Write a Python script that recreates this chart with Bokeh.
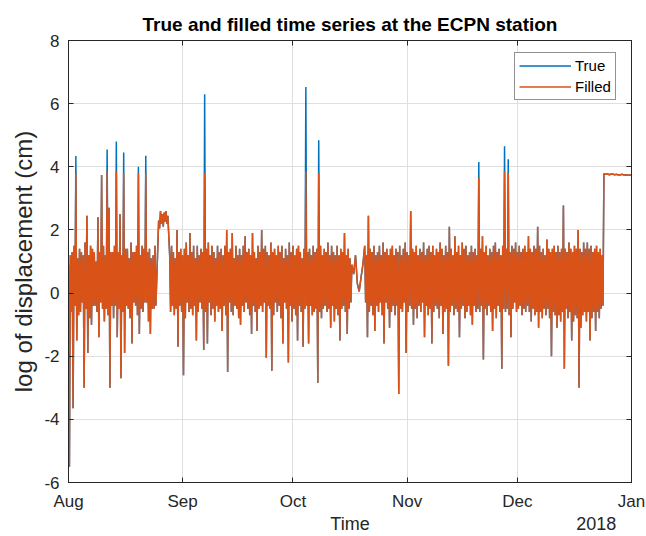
import numpy as np
from bokeh.plotting import figure
from bokeh.models import FixedTicker, LinearAxis, Range1d, Legend, LegendItem
from bokeh.embed import file_html
from bokeh.resources import INLINE

title_text = "True and filled time series at the ECPN station"
x_label = "Time"
y_label = "log of displacement (cm)"
year_label = "2018"

# x axis: days since 1 Aug 2017
month_ticks = [0, 31, 61, 92, 122, 153]
month_labels = ["Aug", "Sep", "Oct", "Nov", "Dec", "Jan"]
y_ticks = [-6, -4, -2, 0, 2, 4, 6, 8]
y_tick_labels = ["-6", "-4", "-2", "0", "2", "4", "6", "8"]
# where the axis title and the year sit under the axis (in days)
x_label_pos = 76.5
year_label_pos = 143.4

# --- filled series, segment by segment (6-hourly samples) ---
seg_a_start, seg_a_step = 0.0, 0.25
seg_a = [0.9, -5.5, 1.2, -0.6,   1.3, -3.65, 1.5, -0.4,   3.8, -1.5, 1.1, -0.7,
         1.4, -0.6, 1.3, -0.3,   1.2, -3.0, 1.6, -0.5,    2.45, -1.9, 1.2, -0.8,
         1.5, -1.0, 1.4, -0.4,   1.3, -0.4, 1.0, -0.6,    2.4, -1.4, 1.3, -0.3,
         3.74, -0.5, 1.5, -0.9,  1.2, -0.5, 3.87, -0.7,   2.7, -3.0, 1.3, -0.4,
         1.3, -0.8, 1.5, -0.4,   3.85, -1.4, 1.3, -0.5,   2.5, -2.7, 1.2, -0.6,
         3.8, -1.9, 1.4, -0.4,   1.4, -0.5, 1.1, -0.8,    1.6, -1.6, 1.3, -0.3,
         1.3, -0.4, 1.5, -0.7,   3.8, -1.3, 1.2, -0.5,    1.5, -0.6, 1.4, -0.3,
         3.8, -0.3, 1.3, -0.9,   1.4, -1.3, 1.1, -0.5,    1.2, -0.5, 1.5, -0.4]

seg_b_start, seg_b_step = 24.5, 0.25
seg_b = [2.3, 2.05, 2.6, 2.2, 2.5, 2.1, 2.55, 2.25, 2.6, 2.2, 2.45]

seg_c_start, seg_c_step = 27.5, 0.25
seg_c = [1.2, -0.6, 1.5, -0.4, 1.3, -0.7, 1.1, -0.5, 2.0, -1.7, 1.3, -0.4,
         1.4, -0.6, 1.2, -2.6, 1.4, -0.8, 1.6, -0.3, 1.2, -0.6, 1.9, -0.5,
         1.3, -0.7, 1.5, -0.4, 1.1, -1.5, 1.5, -0.6, 1.2, -0.3, 1.4, -0.5,
         1.3, -1.8, 3.8, -0.6, 1.4, -1.6, 1.6, -0.3, 1.2, -0.7, 1.5, -0.5,
         1.3, -0.9, 1.1, -0.4, 1.5, -0.6, 1.3, -0.5, 1.4, -1.2, 1.2, -0.4,
         1.5, -0.7, 2.0, -2.5, 1.3, -0.3, 1.4, -0.6, 1.9, -0.7, 1.1, -0.4,
         1.5, -0.5, 1.2, -0.8, 1.4, -1.0, 1.2, -0.4, 1.5, -0.6, 1.8, -0.3,
         1.3, -0.5, 1.4, -0.7, 1.2, -1.3, 1.9, -0.4, 1.3, -0.6, 1.1, -1.2,
         1.5, -0.5, 1.3, -0.4, 2.0, -0.6, 1.4, -0.3, 1.5, -2.05, 1.3, -0.4,
         1.2, -0.5, 1.6, -2.46, 1.3, -0.7, 1.4, -0.3, 1.2, -0.6, 1.5, -0.4,
         1.3, -0.8, 1.5, -1.6, 1.1, -0.3, 1.4, -0.5, 1.2, -2.2, 1.6, -0.4,
         1.3, -0.9, 1.5, -0.5, 1.2, -0.7, 1.4, -1.5, 1.5, -0.4, 1.3, -0.6,
         1.1, -1.7, 1.4, -0.5, 3.86, -0.4, 1.3, -1.6, 1.4, -0.4, 1.2, -0.7,
         1.5, -0.6, 1.3, -0.5, 1.4, -2.84, 3.8, -0.6, 1.5, -0.8, 1.2, -0.5,
         1.4, -0.4, 1.3, -0.6, 1.6, -0.5, 1.2, -1.1, 1.5, -0.4, 1.3, -0.9,
         1.2, -0.5, 1.5, -0.7, 1.2, -1.5, 1.4, -0.5, 1.3, -0.4, 1.9, -0.6,
         1.2, -1.3, 1.4, -0.5, 1.1, -0.3]

seg_d_start, seg_d_step = 77.0, 0.5
seg_d = [0.9, 0.6, 1.2, 0.3, 0.05, 0.5, 0.9]

seg_e_start, seg_e_step = 80.5, 0.25
seg_e = [1.5, -0.3, 1.2, -1.4, 2.45, -0.6, 1.4, -0.4, 1.3, -0.7, 1.5, -1.2,
         1.2, -0.4, 1.3, -0.6, 1.5, -0.3, 1.2, -0.7, 1.6, -1.6, 1.3, -0.3,
         1.4, -0.5, 1.2, -1.1, 1.4, -0.6, 1.5, -0.4, 1.2, -0.7, 1.4, -0.4,
         1.3, -3.2, 1.5, -0.5, 1.2, -0.6, 1.4, -0.3, 1.6, -1.9, 1.3, -0.6,
         1.2, -0.4, 2.6, -0.5, 1.4, -1.0, 1.3, -0.5, 1.5, -0.8, 1.2, -0.4,
         1.4, -0.6, 1.3, -0.3, 1.6, -1.4, 1.2, -0.4, 1.4, -0.7, 1.5, -0.5,
         1.3, -1.6, 1.5, -0.6, 1.2, -0.4, 1.4, -0.5, 1.3, -0.8, 1.6, -0.4,
         1.4, -1.3, 1.2, -0.6, 1.5, -0.5, 1.3, -2.3, 2.1, -0.6, 1.4, -0.4,
         1.2, -0.7, 1.8, -0.5, 1.3, -0.6, 1.5, -1.4, 1.2, -0.5, 1.6, -0.4,
         1.4, -0.8, 1.5, -0.6, 1.2, -0.4, 1.3, -0.7, 1.5, -1.0, 1.3, -0.4,
         1.4, -0.6, 1.2, -0.5, 3.65, -0.6, 1.4, -0.4, 1.8, -2.1, 1.3, -0.5,
         1.5, -0.7, 1.2, -0.4, 1.4, -0.6, 1.3, -1.2, 1.5, -0.5, 1.6, -0.8,
         1.3, -0.4, 1.4, -0.6, 1.2, -2.4, 1.5, -0.5, 3.87, -0.6, 1.4, -0.5,
         3.8, -0.7, 1.3, -1.4, 1.5, -0.5, 1.4, -0.3, 1.6, -0.6, 1.3, -0.5,
         1.5, -0.4, 1.3, -0.7, 1.4, -0.5, 1.5, -0.6, 1.3, -0.4, 1.8, -0.6,
         1.4, -0.9, 1.3, -0.5, 1.5, -0.7, 1.4, -0.6, 2.1, -1.1, 1.5, -0.6,
         1.3, -0.8, 1.4, -0.5, 1.2, -0.7, 1.7, -0.5, 1.4, -0.8, 1.3, -2.0,
         1.4, -0.6, 1.5, -0.7, 1.3, -1.1, 1.5, -0.7, 1.3, -0.9, 1.4, -0.6,
         2.77, -2.4, 1.4, -0.5, 1.3, -0.8, 1.6, -0.6, 1.4, -1.5, 1.3, -0.9,
         1.5, -0.7, 1.4, -0.8, 2.0, -3.0, 1.4, -1.1, 1.3, -0.7, 1.6, -0.6,
         1.4, -0.9, 1.6, -0.6, 1.4, -1.5, 1.5, -0.8, 1.3, -0.6, 1.4, -1.2,
         1.5, -0.6, 1.3, -0.8, 1.4, -0.5, 1.2, -0.4]

seg_f_start, seg_f_step = 145.5, 0.5
seg_f = [3.78, 3.76, 3.77, 3.75, 3.77, 3.76, 3.75, 3.76,
         3.74, 3.75, 3.76, 3.74, 3.75, 3.73, 3.74, 3.74]

# --- true series: equals the filled one except at these peaks ---
true_peak_days = [2.0, 10.5, 13.0, 15.0, 19.0, 21.0, 37.0, 64.5, 68.0, 111.5, 118.5, 119.5]
true_peak_vals = [4.34, 4.55, 4.8, 4.45, 4.0, 4.35, 6.3, 6.53, 4.84, 4.15, 4.65, 4.24]

segments = [(seg_a_start, seg_a_step, seg_a), (seg_b_start, seg_b_step, seg_b),
            (seg_c_start, seg_c_step, seg_c), (seg_d_start, seg_d_step, seg_d),
            (seg_e_start, seg_e_step, seg_e), (seg_f_start, seg_f_step, seg_f)]
days = np.concatenate([s + st * np.arange(len(v)) for s, st, v in segments])
filled = np.concatenate([np.asarray(v, dtype=float) for _, _, v in segments])
true_vals = filled.copy()
for d, v in zip(true_peak_days, true_peak_vals):
    true_vals[np.argmin(np.abs(days - d))] = v

BLUE = "#0072BD"
ORANGE = "#D95319"
TXT = "#262626"
FONT = "Liberation Sans"

p = figure(width=646, height=536, output_backend="svg", toolbar_location=None,
           x_range=Range1d(0, 153), y_range=Range1d(-6, 8),
           min_border_left=68, min_border_right=15, min_border_top=40, min_border_bottom=51,
           title=title_text)
p.background_fill_color = "white"
p.border_fill_color = "white"
p.outline_line_color = TXT
p.outline_line_width = 1

p.title.align = "center"
p.title.text_font = FONT
p.title.text_font_size = "19px"
p.title.text_font_style = "bold"
p.title.text_color = "black"
p.title.standoff = 11

r_true = p.line(days, true_vals, line_color=BLUE, line_width=1.5)
r_fill = p.line(days, filled, line_color=ORANGE, line_width=1.5)

xa = p.xaxis[0]
xa.ticker = FixedTicker(ticks=month_ticks)
xa.major_label_overrides = {t: l for t, l in zip(month_ticks, month_labels)}
ya = p.yaxis[0]
ya.ticker = FixedTicker(ticks=y_ticks)
ya.major_label_overrides = {t: l for t, l in zip(y_ticks, y_tick_labels)}

for ax in (xa, ya):
    ax.major_tick_in = 5
    ax.major_tick_out = 0
    ax.minor_tick_in = 0
    ax.minor_tick_out = 0
    ax.minor_tick_line_color = None
    ax.major_tick_line_color = TXT
    ax.axis_line_color = TXT
    ax.major_label_text_font = FONT
    ax.major_label_text_font_size = "17px"
    ax.major_label_text_color = TXT
    ax.axis_label_text_font = FONT
    ax.axis_label_text_font_style = "normal"
    ax.axis_label_text_color = TXT

xa.major_label_standoff = 9
ya.axis_label = y_label
ya.axis_label_text_font_size = "24px"
ya.major_label_standoff = 9
ya.axis_label_standoff = 4

# second row under the x axis: axis title "Time" and the year "2018" on one line
title_row = LinearAxis(ticker=FixedTicker(ticks=[x_label_pos, year_label_pos]),
                       major_label_overrides={x_label_pos: x_label, year_label_pos: year_label})
title_row.axis_line_color = None
title_row.major_tick_line_color = None
title_row.minor_tick_line_color = None
title_row.major_tick_in = 0
title_row.major_tick_out = 0
title_row.minor_tick_in = 0
title_row.minor_tick_out = 0
title_row.major_label_standoff = 0
title_row.major_label_text_font = FONT
title_row.major_label_text_font_size = "18px"
title_row.major_label_text_color = TXT
p.add_layout(title_row, "below")

# box ticks on top and right
top_ax = LinearAxis(ticker=FixedTicker(ticks=month_ticks),
                    major_label_overrides={t: "" for t in month_ticks})
right_ax = LinearAxis(ticker=FixedTicker(ticks=y_ticks),
                      major_label_overrides={t: "" for t in y_ticks})
for ax in (top_ax, right_ax):
    ax.major_tick_in = 5
    ax.major_tick_out = 0
    ax.minor_tick_in = 0
    ax.minor_tick_out = 0
    ax.minor_tick_line_color = None
    ax.major_tick_line_color = TXT
    ax.axis_line_color = TXT
    ax.major_label_standoff = 0
    ax.major_label_text_font_size = "1px"
p.add_layout(top_ax, "above")
p.add_layout(right_ax, "right")

p.xgrid.ticker = FixedTicker(ticks=month_ticks)
p.ygrid.ticker = FixedTicker(ticks=y_ticks)
for g in (p.xgrid, p.ygrid):
    g.grid_line_color = "#DFDFDF"
    g.grid_line_width = 1

legend = Legend(items=[LegendItem(label="True", renderers=[r_true]),
                       LegendItem(label="Filled", renderers=[r_fill])],
                location=(446, 382))
legend.label_text_font = FONT
legend.label_text_font_size = "15px"
legend.label_text_color = "black"
legend.glyph_width = 52
legend.glyph_height = 17
legend.label_height = 17
legend.label_standoff = 4
legend.spacing = 4
legend.padding = 4
legend.margin = 0
legend.border_line_color = TXT
legend.border_line_width = 1
legend.background_fill_color = "white"
legend.background_fill_alpha = 1
p.add_layout(legend)

open("out.html", "w").write(file_html(p, INLINE))
